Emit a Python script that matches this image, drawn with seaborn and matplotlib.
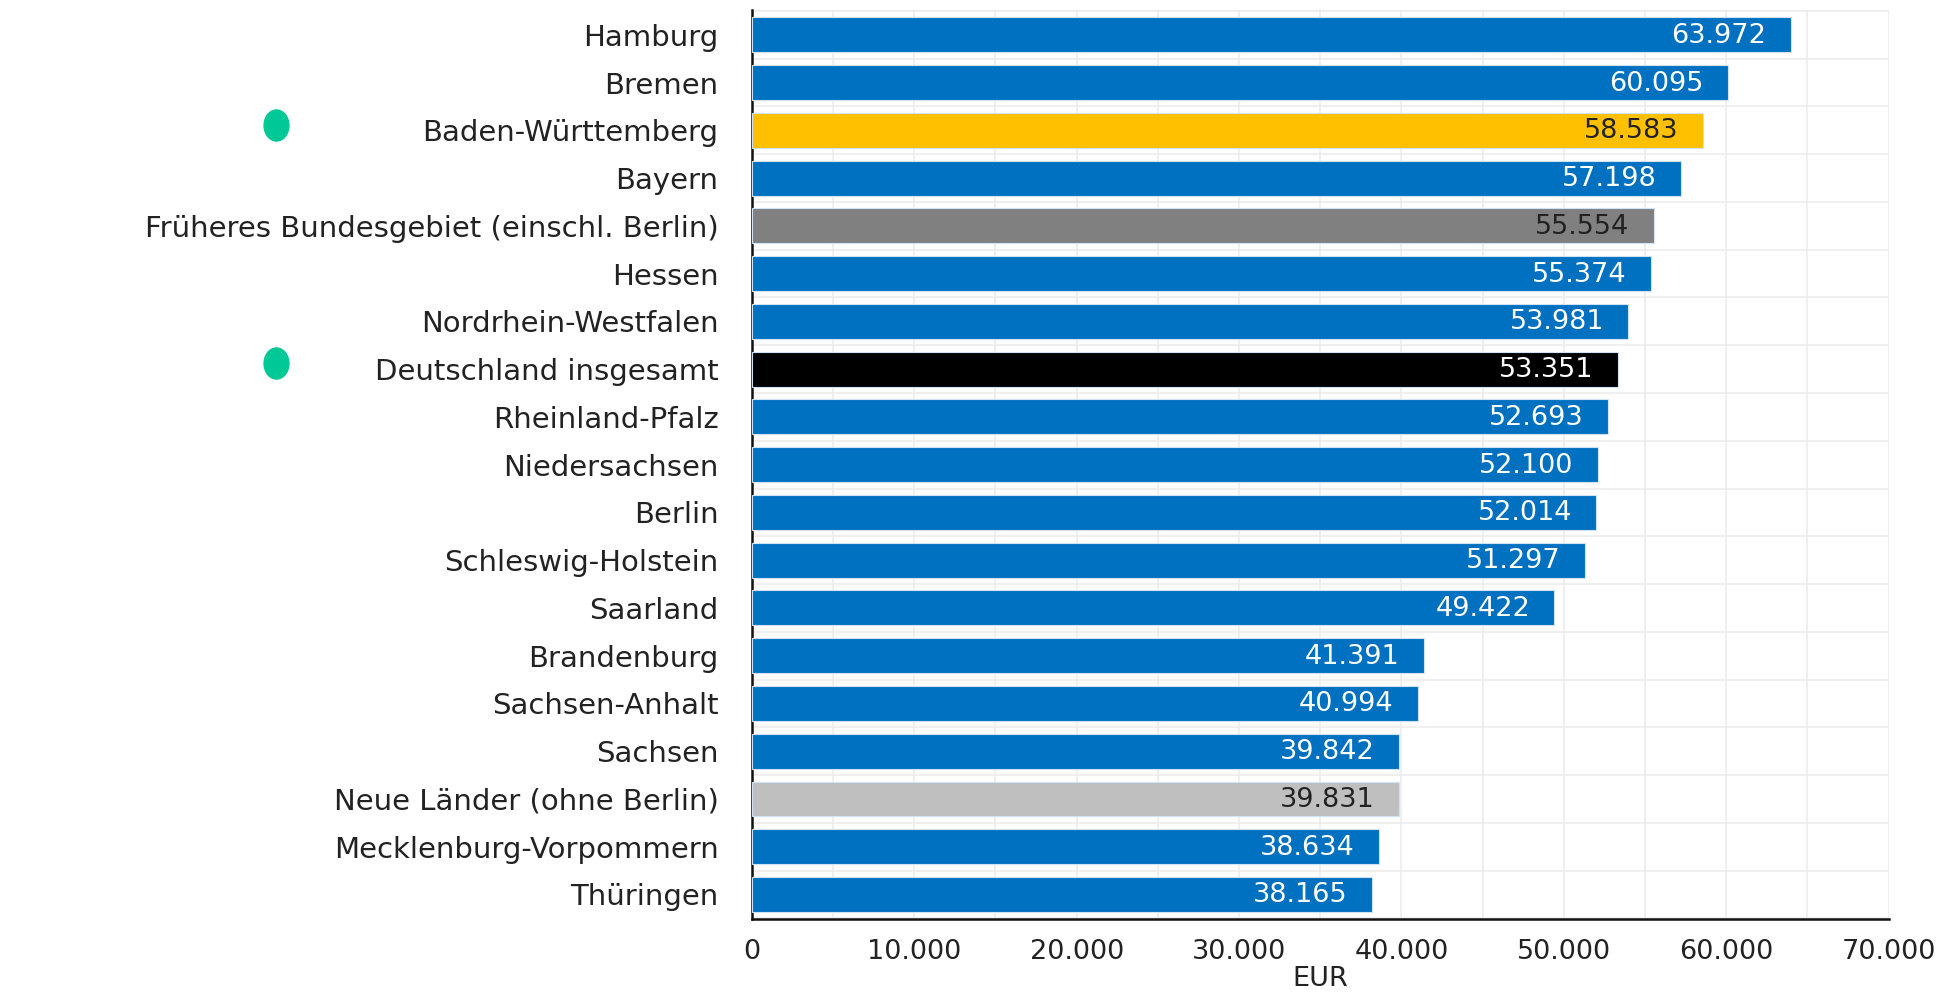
import matplotlib
matplotlib.use("Agg")
import matplotlib.pyplot as plt
import matplotlib.transforms as mtransforms
from matplotlib.path import Path
from matplotlib.ticker import FuncFormatter, MultipleLocator
import seaborn as sns

# data, top to bottom as in the chart
regions = ["Hamburg", "Bremen", "Baden-Württemberg", "Bayern",
           "Früheres Bundesgebiet (einschl. Berlin)", "Hessen",
           "Nordrhein-Westfalen", "Deutschland insgesamt", "Rheinland-Pfalz",
           "Niedersachsen", "Berlin", "Schleswig-Holstein", "Saarland",
           "Brandenburg", "Sachsen-Anhalt", "Sachsen",
           "Neue Länder (ohne Berlin)", "Mecklenburg-Vorpommern", "Thüringen"]
values = [63972, 60095, 58583, 57198, 55554, 55374, 53981, 53351, 52693,
          52100, 52014, 51297, 49422, 41391, 40994, 39842, 39831, 38634, 38165]
marked = ["Baden-Württemberg", "Deutschland insgesamt"]

BLUE = "#0070C0"
special = {"Baden-Württemberg": "#FFC000",
           "Früheres Bundesgebiet (einschl. Berlin)": "#808080",
           "Deutschland insgesamt": "#000000",
           "Neue Länder (ohne Berlin)": "#BFBFBF"}
palette = {r: special.get(r, BLUE) for r in regions}
dark_text = ["Baden-Württemberg", "Früheres Bundesgebiet (einschl. Berlin)",
             "Neue Länder (ohne Berlin)"]

sns.set_style("white")
plt.rcParams["font.family"] = ["DejaVu Sans"]
TXT = "#222222"
FS = 20

fig, ax = plt.subplots(figsize=(19.53, 9.96), dpi=100)
fig.subplots_adjust(left=0.385, right=0.967, top=0.99, bottom=0.077)

sns.barplot(x=values, y=regions, hue=regions, palette=palette, legend=False,
            width=0.73, orient="h", ax=ax, saturation=1,
            edgecolor="#cfe3f5", linewidth=0.8, zorder=3)

ax.set_xlim(0, 70000)
ax.set_ylim(len(regions) - 0.48, -0.52)

# grid
ax.xaxis.set_major_locator(MultipleLocator(10000))
ax.xaxis.set_minor_locator(MultipleLocator(5000))
ax.yaxis.set_minor_locator(MultipleLocator(1, offset=0.5))
ax.grid(which="both", axis="x", color="#ececec", linewidth=1.2, zorder=0)
ax.grid(which="minor", axis="y", color="#ececec", linewidth=1.2, zorder=0)
ax.set_axisbelow(True)

for side in ["top", "right"]:
    ax.spines[side].set_visible(False)
for side in ["left", "bottom"]:
    ax.spines[side].set_color("#111111")
    ax.spines[side].set_linewidth(1.8)

ax.xaxis.set_major_formatter(FuncFormatter(lambda v, p: f"{int(v):,}".replace(",", ".")))
ax.tick_params(axis="x", which="major", direction="out", length=9, width=1.6,
               color="#111111", labelsize=FS - 0.5, labelcolor=TXT, pad=5)
ax.tick_params(axis="x", which="minor", length=0)
ax.tick_params(axis="y", which="both", length=0, labelsize=FS + 1, labelcolor=TXT, pad=24)
ax.set_xlabel("EUR", fontsize=FS - 0.5, color=TXT, labelpad=1)
ax.set_ylabel("")

# value labels inside the bars
for i, (r, v) in enumerate(zip(regions, values)):
    c = TXT if r in dark_text else "white"
    ax.text(v - 1500, i + 0.02, f"{v:,}".replace(",", "."), ha="right", va="center",
            fontsize=FS - 0.5, color=c, zorder=4)

# green markers left of two labels
oval = Path.unit_circle().transformed(mtransforms.Affine2D().scale(0.8, 1.0))
trans = mtransforms.blended_transform_factory(ax.transAxes, ax.transData)
for r in marked:
    ax.scatter([-0.419], [regions.index(r) - 0.12], marker=oval, s=500,
               color="#00C896", transform=trans, clip_on=False, zorder=5)

fig.savefig("out.png", dpi=100)
